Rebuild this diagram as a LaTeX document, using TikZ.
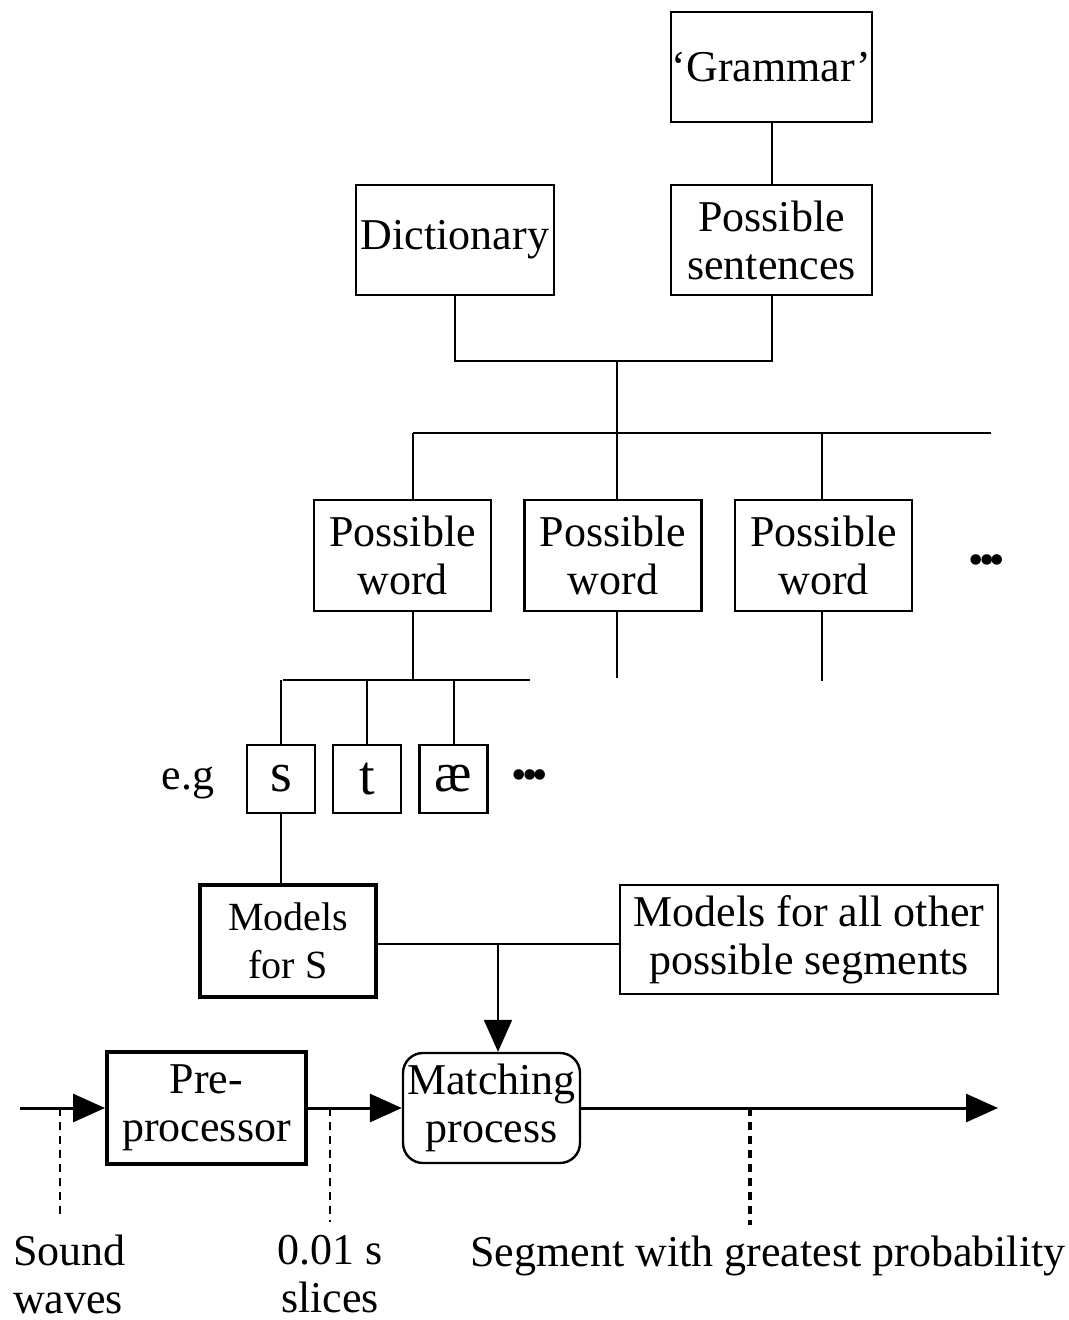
\documentclass[tikz,border=0pt]{standalone}
\usepackage{fontspec}
\setmainfont{Liberation Serif}
\usepackage{tikz}
\usetikzlibrary{arrows.meta, positioning}

\begin{document}
\begin{tikzpicture}[x=0.25pt, y=-0.25pt, font=\fontsize{11}{12}\selectfont, line width=0.5pt,
  box/.style={draw, line width=0.6pt, align=center, inner sep=0pt},
  tip/.style={-{Triangle[length=8pt, width=7pt]}},
  dots/.style={font=\fontsize{11}{11}\selectfont, inner sep=0pt}]
\useasboundingbox (0,0) rectangle (1069,1320);
\node[box, minimum width=50.25pt, minimum height=27.5pt] (g1) at (771.5,67) {‘Grammar’};
\node[box, minimum width=50.25pt, minimum height=27.5pt] (s1) at (771.5,240) {Possible\\sentences};
\node[box, minimum width=49.5pt, minimum height=27.5pt] (d1) at (455,240) {Dictionary};
\foreach \n/\x in {1/402.5, 2/613, 3/823.5}
  \node[box, minimum width=44.25pt, minimum height=27.75pt] (w\n) at (\x,555.5) {Possible\\word};
\node[dots] (e1) at (987,565) {•\kern-1.2pt•\kern-1.2pt•};
\node (e2) at (188,783) {e.g};
\foreach \n/\x/\t in {1/281/s, 2/367/t, 3/453.5/æ}
  \node[box, minimum size=17pt, font=\fontsize{14}{14}\selectfont] (p\n) at (\x,779) {\t};
\node[dots] (e3) at (530,780) {•\kern-1.2pt•\kern-1.2pt•};
\node[box, line width=0.9pt, minimum width=44pt, minimum height=28pt, font=\fontsize{10}{12}\selectfont] (m1) at (288,941) {Models\\for S};
\node[box, minimum width=94.5pt, minimum height=27.25pt] (m2) at (809,939.5) {Models for all other\\possible segments};
\node[box, line width=1pt, minimum width=49.75pt, minimum height=28pt] (pre) at (206.5,1108) {Pre-\\processor};
\node[box, rounded corners=5pt, minimum width=44.25pt, minimum height=27.5pt] (mat) at (491.5,1108) {Matching\\process};
\node[align=left, anchor=west, inner sep=0pt] (l1) at (12,1274) {Sound\\waves};
\node[align=center, inner sep=0pt] (l2) at (330,1274) {0.01 s\\slices};
\node[inner sep=0pt] (l3) at (768,1256) {Segment with greatest probability};

\coordinate (j1) at (617,360);
\coordinate (b1) at (413,433);
\coordinate (b2) at (991,433);
\coordinate (b3) at (822,433);
\coordinate (c1) at (413,680);
\coordinate (c2) at (617,678);
\coordinate (c3) at (822,681);
\coordinate (c4) at (283,680);
\coordinate (c5) at (530,680);
\coordinate (a1) at (498,944);
\coordinate (i1) at (20,1108);
\coordinate (o1) at (998,1108);
\coordinate (x1) at (60,1108);
\coordinate (x2) at (330,1108);
\coordinate (x3) at (750,1108);

\draw (g1) -- (s1);
\draw (d1.south) -- ++(0,65) -| (s1.south);
\draw (j1) -- (j1 |- w2.north);
\draw (b1) -- (b2);
\draw (b1) -- (b1 |- w1.north);
\draw (b3) -- (b3 |- w3.north);
\draw (b1 |- w1.south) -- (c1);
\draw (j1 |- w2.south) -- (c2);
\draw (b3 |- w3.south) -- (c3);
\draw (c4) -- (c5);
\foreach \n in {1,2,3}
  \draw (p\n.north |- c4) -- (p\n.north);
\draw (p1.south) -- (p1.south |- m1.north);
\draw (m1.east |- a1) -- (m2.west |- a1);
\draw[tip] (a1) -- (a1 |- mat.north);
\draw[tip, line width=0.75pt] (i1) -- (pre.west);
\draw[tip, line width=0.75pt] (pre.east) -- (mat.west);
\draw[tip, line width=0.75pt] (mat.east) -- (o1);
\draw[dashed, dash pattern=on 2pt off 1.5pt] (x1) -- ++(0,112);
\draw[dashed, dash pattern=on 2pt off 1.5pt] (x2) -- ++(0,114);
\draw[dashed, dash pattern=on 2pt off 1.5pt, line width=0.9pt] (x3) -- ++(0,117);
\end{tikzpicture}
\end{document}
